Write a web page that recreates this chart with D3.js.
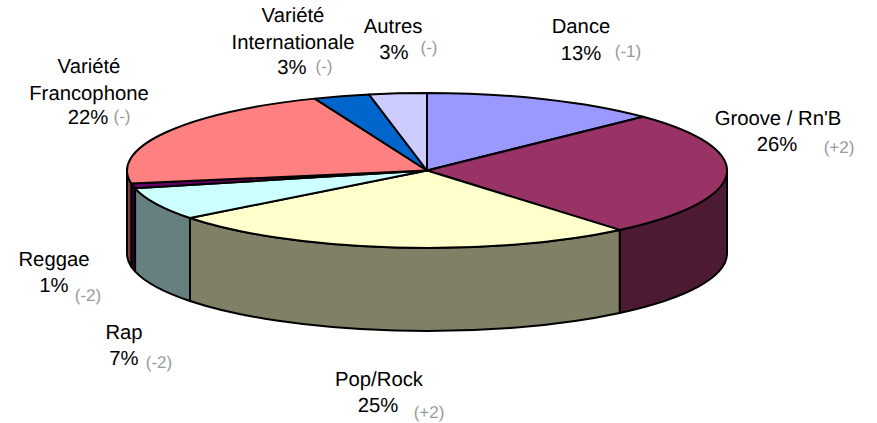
<!DOCTYPE html>
<html><head><meta charset="utf-8">
<script src="https://cdn.jsdelivr.net/npm/d3@7"></script>
<style>html,body{margin:0;padding:0;background:#fff}svg{display:block}text{font-family:"Liberation Sans",Arial,sans-serif;text-rendering:geometricPrecision}</style>
</head><body><svg id="c" width="877" height="423"></svg>
<script>
const categories = ["Dance","Groove / Rn'B","Pop/Rock","Rap","Reggae","Variété Francophone","Variété Internationale","Autres"];
const values = [12.8,26.1,25.6,6.8,1.0,21.6,3.0,3.1];
const percentLabels = [13,26,25,7,1,22,3,3];
const changes = ["(-1)","(+2)","(+2)","(-2)","(-2)","(-)","(-)","(-)"];
const colors = ["#9999FF","#993366","#FFFFCC","#CCFFFF","#660066","#FF8080","#0066CC","#CCCCFF"];

const cx=427, cy=170.5, rx=300, ry=77.5, depth=83;
const svg=d3.select("#c");
const arcs=d3.pie().sort(null).value(d=>d)(values);
const pt=(a,dy=0)=>[cx+rx*Math.sin(a), cy-ry*Math.cos(a)+dy];
const wall=(a0,a1)=>{
  const s=Math.max(a0,Math.PI/2), e=Math.min(a1,1.5*Math.PI);
  if(e<=s) return null;
  const [x0,y0]=pt(s),[x1,y1]=pt(e),[x2,y2]=pt(e,depth),[x3,y3]=pt(s,depth);
  return `M${x0},${y0}A${rx},${ry} 0 0 1 ${x1},${y1}L${x2},${y2}A${rx},${ry} 0 0 0 ${x3},${y3}Z`;
};
const dark=c=>{const k=d3.rgb(c);return d3.rgb(k.r/2,k.g/2,k.b/2)};
svg.append("g").selectAll("path").data(arcs.filter(d=>wall(d.startAngle,d.endAngle))).join("path")
  .attr("d",d=>wall(d.startAngle,d.endAngle))
  .attr("fill",d=>dark(colors[d.index]))
  .attr("stroke","#000").attr("stroke-width",2).attr("stroke-linejoin","round");
const arcGen=d3.arc().innerRadius(0).outerRadius(rx);
svg.append("g").attr("transform",`translate(${cx},${cy}) scale(1,${ry/rx})`)
  .selectAll("path").data(arcs).join("path")
  .attr("d",arcGen).attr("fill",d=>colors[d.index])
  .attr("stroke","#000").attr("stroke-width",2).attr("stroke-linejoin","round")
  .attr("vector-effect","non-scaling-stroke");

const labelLines=[["Dance"],["Groove / Rn'B"],["Pop/Rock"],["Rap"],["Reggae"],["Variété","Francophone"],["Variété","Internationale"],["Autres"]];
const nameAt=[[581,33],[778,125],[379,386],[124,339],[54,266],[89,73],[293,22],[393,33]];
const pctAt=[[581,60],[777,151],[378,412],[124,365],[54,292],[88,124],[292,74],[394,59]];
const tagAt=[[628,57],[839,153],[429,418],[159,368],[88,301],[122,122],[324,72],[429,53]];
const lineH=26.5;
const g=svg.append("g");
nameAt.forEach((p,i)=>{
  const t=g.append("text").attr("text-anchor","middle").attr("font-size",20.3).attr("fill","#000");
  labelLines[i].forEach((l,j)=>t.append("tspan").attr("x",p[0]).attr("y",p[1]+j*lineH).text(l));
});
pctAt.forEach((p,i)=>g.append("text").attr("x",p[0]).attr("y",p[1]).attr("text-anchor","middle").attr("font-size",20.3).text(percentLabels[i]+"%"));
tagAt.forEach((p,i)=>g.append("text").attr("x",p[0]).attr("y",p[1]).attr("text-anchor","middle").attr("font-size",17).attr("fill","#999").text(changes[i]));
</script></body></html>
